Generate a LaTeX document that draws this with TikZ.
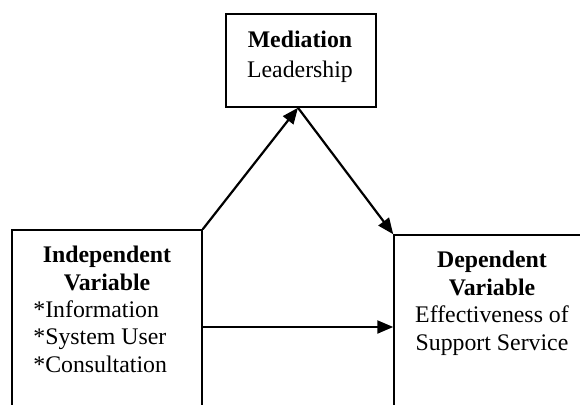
\documentclass[tikz,border=0pt]{standalone}
\usepackage{fontspec}
\setmainfont{Liberation Serif}
\usetikzlibrary{arrows.meta,positioning}
\tikzset{
  box/.style={draw, line width=0.75pt, inner sep=0pt},
  arr/.style={line width=1.1pt, -{Triangle[length=8pt,width=6.5pt]}},
  txt/.style={inner sep=0pt, font=\fontsize{11.9}{13.75}\selectfont}
}
\begin{document}
\begin{tikzpicture}[x=0.5pt,y=-0.5pt]
\useasboundingbox (0,0) rectangle (580,404);
\clip (0,0) rectangle (580,404);
  % Boites
  \node[box, minimum width=75pt, minimum height=46.5pt] (med) at (301,60.5) {};
  \node[box, minimum width=95pt, minimum height=97pt] (iv) at (107,327) {};
  \node[box, minimum width=98pt, minimum height=92pt] (dv) at (492,327) {};
  % Textes (ancre sur la derniere ligne)
  \node[txt, anchor=base, align=center] (medtext) at (300,77) {\textbf{Mediation}\\[1.2pt]Leadership};
  \node[txt, anchor=base, align=center] (ivhead) at (107,290) {\textbf{Independent}\\\textbf{Variable}};
  \node[txt, anchor=base west, align=left] (ivlist) at (33,372) {*Information\\*System User\\*Consultation};
  \node[txt, anchor=base, align=center] (dvtext) at (492,350) {\textbf{Dependent}\\\textbf{Variable}\\Effectiveness of\\Support Service};
  % Fleches
  \draw[arr] (iv.north east) -- ([xshift=-1.5pt]med.south);
  \draw[arr] ([xshift=-1.5pt]med.south) -- (dv.north west);
  \draw[arr] (iv.east) -- (dv.west);
\end{tikzpicture}
\end{document}
